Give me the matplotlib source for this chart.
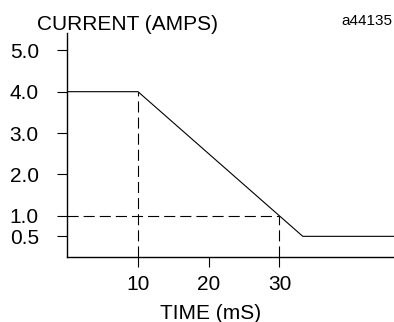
import matplotlib
matplotlib.use("Agg")
import matplotlib.pyplot as plt

plt.rcParams['font.family'] = ['Liberation Sans', 'DejaVu Sans']

# current profile (time in mS, current in amps)
time_ms = [0, 10, 33.3, 46.2]
current = [4.0, 4.0, 0.5, 0.5]

y_ticks = [0.5, 1.0, 2.0, 3.0, 4.0, 5.0]
y_labels = ["0.5", "1.0", "2.0", "3.0", "4.0", "5.0"]
x_ticks = [10, 20, 30]
x_labels = ["10", "20", "30"]

# dashed guide lines
guide_t1, guide_i1 = 10, 4.0
guide_t2, guide_i2 = 30, 1.0

fig = plt.figure(figsize=(3.94, 3.22), dpi=100)
ax = fig.add_axes([67.3 / 394, 65 / 322, 1 - 67.3 / 394, 224 / 322])

ax.plot(time_ms, current, color="black", lw=0.8, solid_capstyle="butt")

dash = dict(color="black", lw=0.8, dashes=(10, 4.5))
ax.plot([guide_t1, guide_t1], [0, guide_i1], **dash)
ax.plot([0, guide_t2], [guide_i2, guide_i2], **dash)
ax.plot([guide_t2, guide_t2], [0, guide_i2], **dash)

ax.set_xlim(0, 46.2)
ax.set_ylim(0, 5.42)
ax.spines["top"].set_visible(False)
ax.spines["right"].set_visible(False)
ax.spines["left"].set_linewidth(1.0)
ax.spines["bottom"].set_linewidth(1.0)

ax.set_yticks(y_ticks)
ax.set_yticklabels(y_labels)
ax.set_xticks(x_ticks)
ax.set_xticklabels(x_labels)
ax.tick_params(axis="y", direction="out", length=7, width=0.8, pad=13.5, labelsize=15)
ax.tick_params(axis="x", direction="out", length=7, width=0.8, pad=6, labelsize=15)

fig.text(37 / 394, 1 - 29.5 / 322, "CURRENT (AMPS)", fontsize=15, ha="left", va="baseline")
fig.text(392 / 394, 1 - 25 / 322, "a44135", fontsize=11, ha="right", va="baseline")
fig.text(211 / 394, 1 - 319 / 322, "TIME (mS)", fontsize=15, ha="center", va="baseline")

fig.savefig("out.png", dpi=100)
